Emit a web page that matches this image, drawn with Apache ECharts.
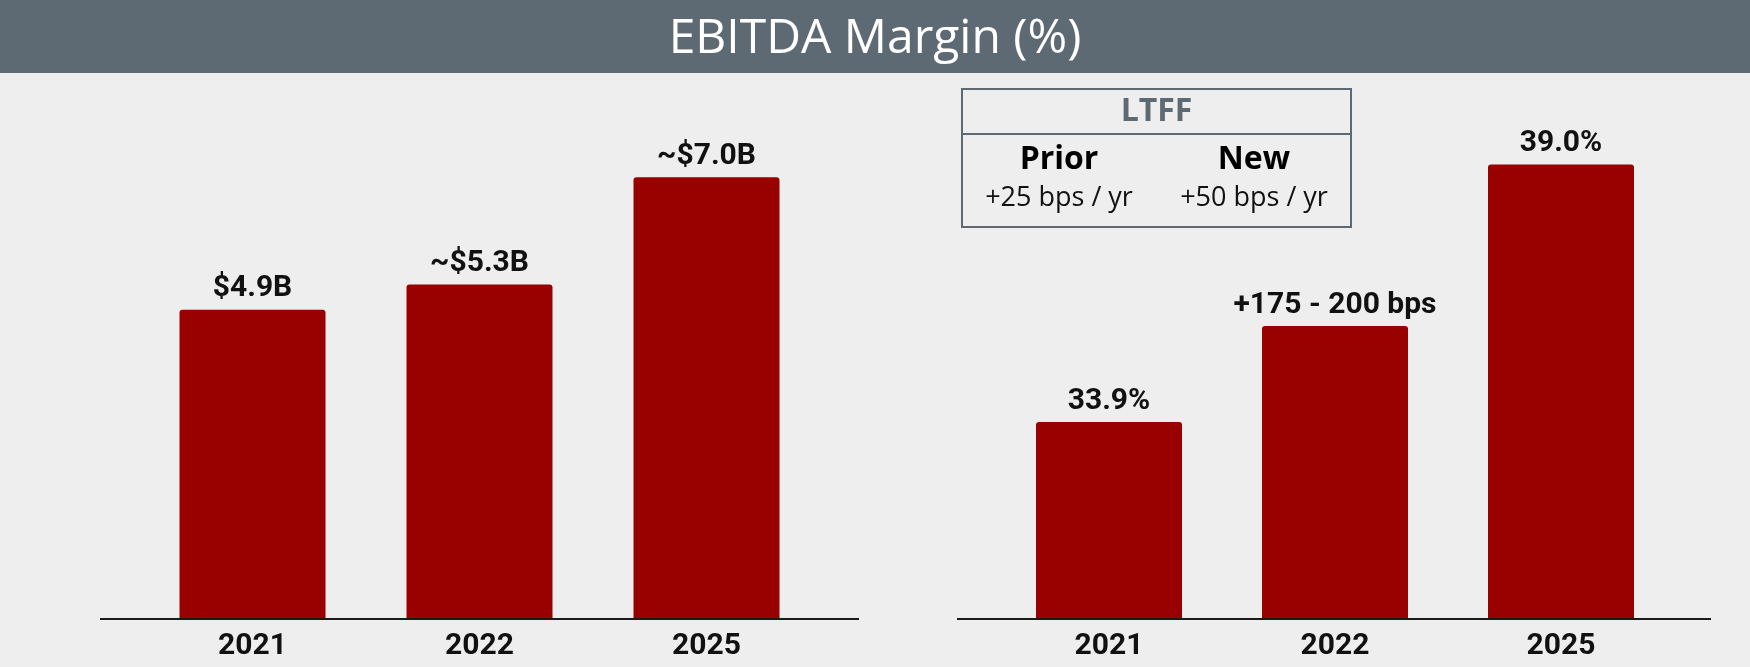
<!DOCTYPE html>
<html>
<head>
<meta charset="utf-8">
<script src="https://cdn.jsdelivr.net/npm/echarts@6/dist/echarts.min.js"></script>
<style>
  html, body { margin: 0; padding: 0; background: #eeeeee; }
  #main { width: 1750px; height: 667px; }
</style>
</head>
<body>
<div id="main"></div>
<script>
// data
const years = ['2021', '2022', '2025'];
const ebitda = [4.9, 5.3, 7.0];
const ebitdaLabels = ['$4.9B', '~$5.3B', '~$7.0B'];
const margin = [33.9, 35.8, 39.0];
const marginLabels = ['33.9%', '+175 - 200 bps', '39.0%'];
const ltffTitle = 'LTFF';
const ltffCols = ['Prior', 'New'];
const ltffRates = ['+25 bps / yr', '+50 bps / yr'];

const barColor = '#990000';
const slate = '#5e6a73';

var myChart = echarts.init(document.getElementById('main'));

function barSeries(idx, values, labels) {
  return {
    type: 'bar',
    xAxisIndex: idx,
    yAxisIndex: idx,
    data: values,
    barWidth: 146,
    itemStyle: { color: barColor, borderRadius: [3, 3, 0, 0] },
    label: {
      show: true,
      position: 'top',
      distance: 6,
      formatter: function (p) { return labels[p.dataIndex]; },
      color: '#111',
      fontFamily: 'Roboto',
      fontWeight: 'bold',
      fontSize: 30
    },
    silent: true
  };
}

var xCommon = {
  type: 'category',
  data: years,
  axisLine: { show: false },
  axisTick: { show: false },
  axisLabel: {
    margin: 12,
    color: '#111',
    fontFamily: 'Roboto',
    fontWeight: 'bold',
    fontSize: 30
  }
};

var option = {
  backgroundColor: '#eeeeee',
  animation: false,
  title: {
    text: 'EBITDA Margin (%)',
    left: 'center',
    top: 10,
    textStyle: {
      color: '#ffffff',
      fontFamily: 'Open Sans',
      fontWeight: 'normal',
      fontSize: 48
    },
    z: 10
  },
  grid: [
    { left: 139, width: 681, top: 114, height: 505 },
    { left: 996, width: 678, top: 114, height: 505 }
  ],
  xAxis: [
    Object.assign({ gridIndex: 0 }, xCommon),
    Object.assign({ gridIndex: 1 }, xCommon)
  ],
  yAxis: [
    { gridIndex: 0, type: 'value', min: 0, max: 8, show: false },
    { gridIndex: 1, type: 'value', min: 30, max: 40, show: false }
  ],
  graphic: [
    // header band
    { type: 'rect', shape: { x: 0, y: 0, width: 1750, height: 73 }, style: { fill: slate }, z: 1 },
    // baselines, a bit longer than the bars span
    { type: 'line', shape: { x1: 100, y1: 619, x2: 859, y2: 619 }, style: { stroke: '#1a1a1a', lineWidth: 2 }, z: 5 },
    { type: 'line', shape: { x1: 957, y1: 619, x2: 1711, y2: 619 }, style: { stroke: '#1a1a1a', lineWidth: 2 }, z: 5 },
    // LTFF box
    { type: 'rect', shape: { x: 962, y: 89, width: 389, height: 138 }, style: { fill: 'none', stroke: slate, lineWidth: 2 } },
    { type: 'line', shape: { x1: 962, y1: 134, x2: 1351, y2: 134 }, style: { stroke: slate, lineWidth: 2 } },
    { type: 'text', style: { text: ltffTitle, x: 1156.5, y: 112, align: 'center', verticalAlign: 'middle', fill: slate, fontFamily: 'Open Sans', fontWeight: 'bold', fontSize: 32 } },
    { type: 'text', style: { text: ltffCols[0], x: 1059, y: 160, align: 'center', verticalAlign: 'middle', fill: '#000', fontFamily: 'Open Sans', fontWeight: 'bold', fontSize: 32 } },
    { type: 'text', style: { text: ltffCols[1], x: 1254, y: 160, align: 'center', verticalAlign: 'middle', fill: '#000', fontFamily: 'Open Sans', fontWeight: 'bold', fontSize: 32 } },
    { type: 'text', style: { text: ltffRates[0], x: 1059, y: 198, align: 'center', verticalAlign: 'middle', fill: '#111', fontFamily: 'Open Sans', fontSize: 27 } },
    { type: 'text', style: { text: ltffRates[1], x: 1254, y: 198, align: 'center', verticalAlign: 'middle', fill: '#111', fontFamily: 'Open Sans', fontSize: 27 } }
  ],
  series: [
    barSeries(0, ebitda, ebitdaLabels),
    barSeries(1, margin, marginLabels)
  ]
};

myChart.setOption(option);
</script>
</body>
</html>
